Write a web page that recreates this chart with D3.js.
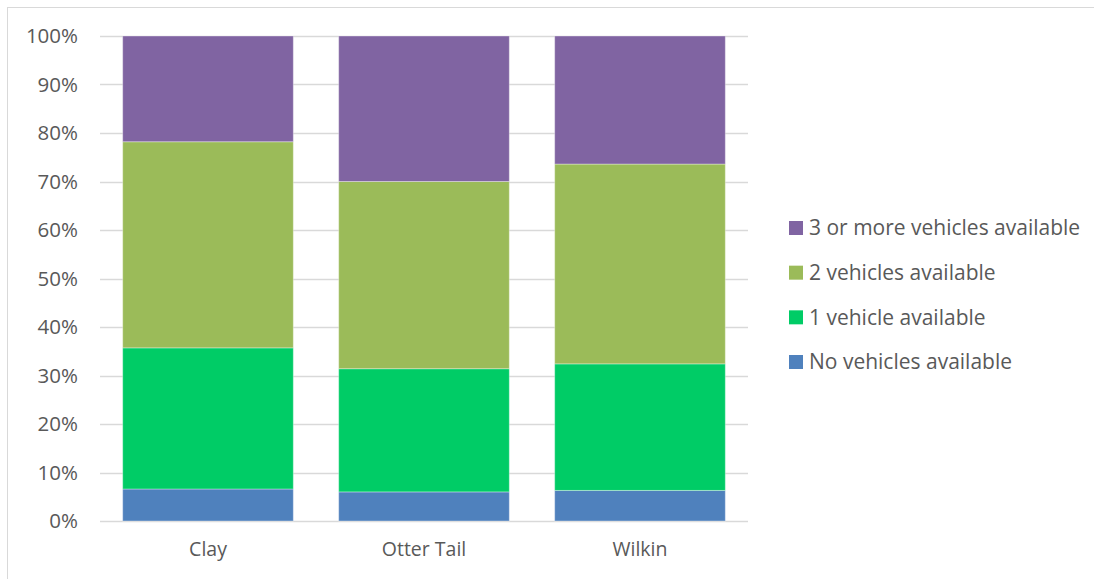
<!DOCTYPE html>
<html>
<head>
<meta charset="utf-8">
<script src="https://cdn.jsdelivr.net/npm/d3@7"></script>
<style>
  html, body { margin: 0; padding: 0; background: #fff; }
  svg { display: block; }
  text { font-family: "Open Sans", sans-serif; fill: #595959; }
</style>
</head>
<body>
<script>
const categories = ["Clay", "Otter Tail", "Wilkin"];
const seriesNames = ["No vehicles available", "1 vehicle available", "2 vehicles available", "3 or more vehicles available"];
const noVehicles = [6.6, 6.0, 6.3];
const oneVehicle = [29.1, 25.4, 26.1];
const twoVehicles = [42.5, 38.6, 41.2];
const threePlus = [21.8, 30.0, 26.4];
const yTicks = [0, 10, 20, 30, 40, 50, 60, 70, 80, 90, 100];
const colors = ["#4f81bd", "#00cc66", "#9bbb59", "#8064a2"];

const W = 1094, H = 579;
const svg = d3.select("body").append("svg").attr("width", W).attr("height", H);

// chart border
svg.append("rect").attr("x", 7.5).attr("y", 7.5).attr("width", W + 10).attr("height", H + 10)
  .attr("fill", "none").attr("stroke", "#d9d9d9").attr("stroke-width", 1);

const x = d3.scaleBand().domain(categories).range([100, 748]).paddingInner(0.21).paddingOuter(0.105);
const y = d3.scaleLinear().domain([0, 100]).range([521, 36]);

// gridlines
svg.append("g").selectAll("line").data(yTicks).join("line")
  .attr("x1", 100).attr("x2", 748)
  .attr("y1", d => Math.round(y(d)) + 0.5).attr("y2", d => Math.round(y(d)) + 0.5)
  .attr("stroke", "#d9d9d9").attr("stroke-width", 1.5);

// y axis labels
const yAxis = d3.axisLeft(y).tickValues(yTicks).tickFormat(d => d + "%").tickSize(0).tickPadding(0);
const gy = svg.append("g").attr("transform", "translate(78,0)").call(yAxis);
gy.select(".domain").remove();
gy.selectAll("text").attr("font-size", 20.5).attr("font-family", "Open Sans").attr("fill", "#595959");

// stacked data
const table = categories.map((c, i) => ({
  cat: c,
  [seriesNames[0]]: noVehicles[i],
  [seriesNames[1]]: oneVehicle[i],
  [seriesNames[2]]: twoVehicles[i],
  [seriesNames[3]]: threePlus[i]
}));
const stacked = d3.stack().keys(seriesNames)(table);

svg.append("g").selectAll("g").data(stacked).join("g")
  .attr("fill", (d, i) => colors[i])
  .selectAll("rect").data(d => d).join("rect")
  .attr("x", d => x(d.data.cat))
  .attr("width", x.bandwidth())
  .attr("y", d => y(d[1]))
  .attr("height", d => y(d[0]) - y(d[1]))
  .attr("stroke", "#ffffff").attr("stroke-opacity", 0.35).attr("stroke-width", 1);

// x axis labels
const xAxis = d3.axisBottom(x).tickSize(0).tickPadding(0);
const gx = svg.append("g").attr("transform", "translate(0,542)").call(xAxis);
gx.select(".domain").remove();
gx.selectAll("text").attr("font-size", 19.5).attr("font-family", "Open Sans").attr("fill", "#595959");

// legend
const legendOrder = seriesNames.map((n, i) => ({ name: n, color: colors[i] })).reverse();
const legendY = d3.scalePoint().domain(legendOrder.map(d => d.name)).range([228, 362]);
const lg = svg.append("g").selectAll("g").data(legendOrder).join("g")
  .attr("transform", d => `translate(789,${legendY(d.name)})`);
lg.append("rect").attr("x", 0).attr("y", -7).attr("width", 14).attr("height", 14).attr("fill", d => d.color);
lg.append("text").attr("x", 20).attr("y", 0).attr("dy", "0.35em")
  .attr("font-size", 21).text(d => d.name);
</script>
</body>
</html>
